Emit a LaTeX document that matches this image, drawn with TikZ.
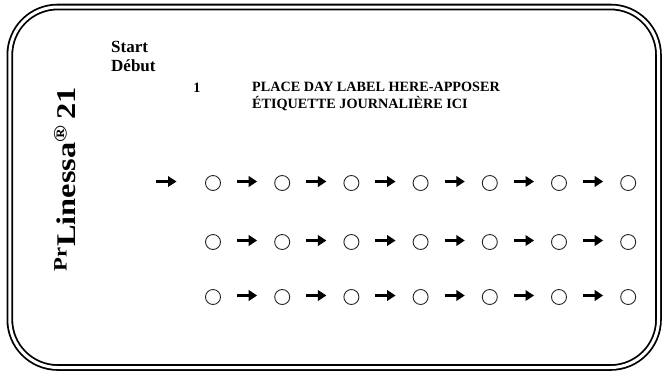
\documentclass[tikz,border=0pt]{standalone}
\usepackage{fontspec}
\setmainfont{Liberation Serif}
\usetikzlibrary{arrows.meta, positioning}
\tikzset{
    frame/.style={draw=black, double=white, line width=1.8pt, double distance=3pt, rounded corners=48pt},
    dot/.style={circle, draw=black!85, line width=0.9pt, minimum size=15pt, inner sep=0pt, outer sep=0pt},
    flow/.style={-{Triangle[length=8.5pt, width=10.5pt]}, black, line width=3pt, shorten <=16.5pt, shorten >=17.5pt, transform canvas={yshift=1.5pt}},
    tag/.style={font=\bfseries\fontsize{14.2}{17}\selectfont, inner sep=0pt, align=left}
}

\begin{document}
\begin{tikzpicture}[x=1pt, y=1pt, node distance=54.2pt]
    \useasboundingbox (0,0) rectangle (665,-373);
    \draw [frame] (9.8,-7) rectangle (658.5,-367.5);

    \node (start) [tag, font=\bfseries\fontsize{17}{19.5}\selectfont, anchor=north west] at (111,-41) {Start\\Début};
    \node (day) [tag, anchor=base] at (197,-92) {1};
    \node (place) [tag, anchor=north west] at (252,-82) {PLACE DAY LABEL HERE-APPOSER\\ÉTIQUETTE JOURNALIÈRE ICI};
    \node (brand) [tag, font=\bfseries\fontsize{27}{30}\selectfont, rotate=90, anchor=center] at (65,-179) {\scalebox{1.2}[1]{\textsuperscript{Pr}Linessa\textsuperscript{\textregistered}\,21}};

    % row 1
    \node (r1c1) [dot] at (213,-183) {};
    \node (r1c2) [dot, right=of r1c1] {};
    \node (r1c3) [dot, right=of r1c2] {};
    \node (r1c4) [dot, right=of r1c3] {};
    \node (r1c5) [dot, right=of r1c4] {};
    \node (r1c6) [dot, right=of r1c5] {};
    \node (r1c7) [dot, right=of r1c6] {};
    % row 2
    \node (r2c1) [dot, below=44pt of r1c1] {};
    \node (r2c2) [dot, right=of r2c1] {};
    \node (r2c3) [dot, right=of r2c2] {};
    \node (r2c4) [dot, right=of r2c3] {};
    \node (r2c5) [dot, right=of r2c4] {};
    \node (r2c6) [dot, right=of r2c5] {};
    \node (r2c7) [dot, right=of r2c6] {};
    % row 3
    \node (r3c1) [dot, below=40pt of r2c1] {};
    \node (r3c2) [dot, right=of r3c1] {};
    \node (r3c3) [dot, right=of r3c2] {};
    \node (r3c4) [dot, right=of r3c3] {};
    \node (r3c5) [dot, right=of r3c4] {};
    \node (r3c6) [dot, right=of r3c5] {};
    \node (r3c7) [dot, right=of r3c6] {};

    \coordinate (go) at (156,-183);
    \draw [flow, shorten <=0pt, shorten >=29pt] (go) -- (r1c1);
    \draw [flow] (r1c1) -- (r1c2);
    \draw [flow] (r1c2) -- (r1c3);
    \draw [flow] (r1c3) -- (r1c4);
    \draw [flow] (r1c4) -- (r1c5);
    \draw [flow] (r1c5) -- (r1c6);
    \draw [flow] (r1c6) -- (r1c7);

    \draw [flow] (r2c1) -- (r2c2);
    \draw [flow] (r2c2) -- (r2c3);
    \draw [flow] (r2c3) -- (r2c4);
    \draw [flow] (r2c4) -- (r2c5);
    \draw [flow] (r2c5) -- (r2c6);
    \draw [flow] (r2c6) -- (r2c7);

    \draw [flow] (r3c1) -- (r3c2);
    \draw [flow] (r3c2) -- (r3c3);
    \draw [flow] (r3c3) -- (r3c4);
    \draw [flow] (r3c4) -- (r3c5);
    \draw [flow] (r3c5) -- (r3c6);
    \draw [flow] (r3c6) -- (r3c7);
\end{tikzpicture}
\end{document}
